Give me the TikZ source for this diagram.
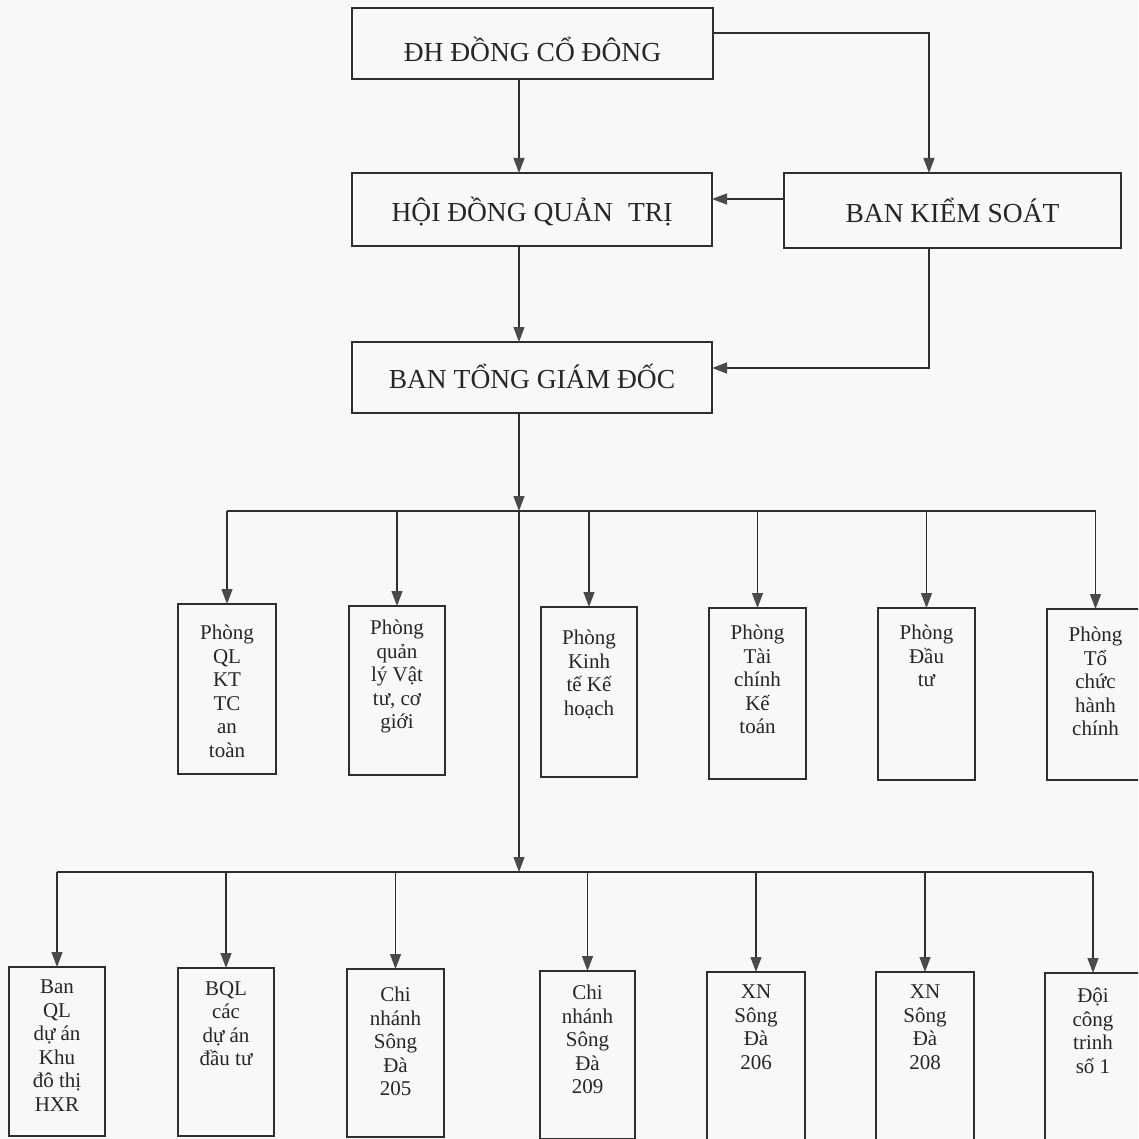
\documentclass[tikz,border=0pt]{standalone}
\usepackage{fontspec}
\setmainfont{Liberation Serif}
\usetikzlibrary{arrows.meta,calc}
\definecolor{paper}{HTML}{F8F8F8}
\definecolor{linec}{HTML}{2E2E2E}
\definecolor{arrc}{HTML}{4A4A4A}
\definecolor{textc}{HTML}{262626}
\tikzset{
  bigbox/.style={draw=linec, line width=1.4pt, inner sep=0pt, outer sep=0pt,
    text=textc, font=\fontsize{27.5}{30}\selectfont, text height=24pt, text depth=0pt},
  ubox/.style={draw=linec, line width=1.3pt, inner sep=0pt, outer sep=0pt},
  ltext/.style={anchor=north, align=center, inner sep=0pt, text=textc,
    font=\fontsize{21}{23.5}\selectfont},
  conn/.style={draw=linec, line width=1.25pt},
  arr/.style={conn, -{Triangle[length=15pt, width=11pt, color=arrc]}}
}
\begin{document}
\begin{tikzpicture}[x=1pt, y=-1pt]
\useasboundingbox (0,0) rectangle (1138,1139);
\fill[paper] (0,0) rectangle (1138,1139);
\clip (0,0) rectangle (1138,1139);

% top management boxes
\node[bigbox, minimum width=361pt, minimum height=71pt, text height=36pt] (dh) at (532.5,43.5) {ĐH ĐỒNG CỔ ĐÔNG};
\node[bigbox, minimum width=360pt, minimum height=73pt] (hdqt) at (532,209.5) {HỘI ĐỒNG QUẢN\hspace{0.3em} TRỊ};
\node[bigbox, minimum width=337pt, minimum height=75pt, text height=25pt] (bks) at (952.5,210.5) {BAN KIỂM SOÁT};
\node[bigbox, minimum width=360pt, minimum height=71pt, text height=21pt] (btgd) at (532,377.5) {BAN TỔNG GIÁM ĐỐC};

% departments (top row)
\node[ubox, minimum width=98pt, minimum height=170pt,
  label={[ltext, label distance=-21pt]north:{Phòng\\QL\\KT\\TC\\an\\toàn}}] (p1) at (227,689) {};
\node[ubox, minimum width=96pt, minimum height=169pt,
  label={[ltext, label distance=-14pt]north:{Phòng\\quản\\lý Vật\\tư, cơ\\giới}}] (p2) at (397,690.5) {};
\node[ubox, minimum width=96pt, minimum height=170pt,
  label={[ltext, label distance=-23pt]north:{Phòng\\Kinh\\tế Kế\\hoạch}}] (p3) at (589,692) {};
\node[ubox, minimum width=97pt, minimum height=171pt,
  label={[ltext, label distance=-17pt]north:{Phòng\\Tài\\chính\\Kế\\toán}}] (p4) at (757.5,693.5) {};
\node[ubox, minimum width=97pt, minimum height=172pt,
  label={[ltext, label distance=-17pt]north:{Phòng\\Đầu\\tư}}] (p5) at (926.5,694) {};
\node[ubox, minimum width=97pt, minimum height=171pt,
  label={[ltext, label distance=-18pt]north:{Phòng\\Tổ\\chức\\hành\\chính}}] (p6) at (1095.5,694.5) {};

% units (bottom row)
\node[ubox, minimum width=96pt, minimum height=169pt,
  label={[ltext, label distance=-13pt]north:{Ban\\QL\\dự án\\Khu\\đô thị\\HXR}}] (b1) at (57,1051.5) {};
\node[ubox, minimum width=96pt, minimum height=168pt,
  label={[ltext, label distance=-13pt]north:{BQL\\các\\dự án\\đầu tư}}] (b2) at (226,1052) {};
\node[ubox, minimum width=97pt, minimum height=168pt,
  label={[ltext, label distance=-18pt]north:{Chi\\nhánh\\Sông\\Đà\\205}}] (b3) at (395.5,1053) {};
\node[ubox, minimum width=95pt, minimum height=168pt,
  label={[ltext, label distance=-14pt]north:{Chi\\nhánh\\Sông\\Đà\\209}}] (b4) at (587.5,1055) {};
\node[ubox, minimum width=98pt, minimum height=170pt,
  label={[ltext, label distance=-13pt]north:{XN\\Sông\\Đà\\206}}] (b5) at (756,1057) {};
\node[ubox, minimum width=98pt, minimum height=170pt,
  label={[ltext, label distance=-13pt]north:{XN\\Sông\\Đà\\208}}] (b6) at (925,1057) {};
\node[ubox, minimum width=96pt, minimum height=170pt,
  label={[ltext, label distance=-15pt]north:{Đội\\công\\trinh\\số 1}}] (b7) at (1093,1058) {};

% helper coordinates
\coordinate (cx) at (519,0);
\coordinate (bus1) at (519,511);
\coordinate (bus2) at (519,872);

% upper connectors
\draw[arr] (dh.south -| cx) -- (hdqt.north -| cx);
\draw[arr] (hdqt.south -| cx) -- (btgd.north -| cx);
\draw[arr] ([yshift=10.5pt]dh.east) -| ([xshift=-23.5pt]bks.north);
\draw[arr] ([yshift=11.5pt]bks.west) -- ([yshift=11.5pt]bks.west -| hdqt.east);
\draw[arr] ([xshift=-23.5pt]bks.south) |- ([yshift=9.5pt]btgd.east);

% trunk
\draw[arr] (btgd.south -| cx) -- (bus1);
\draw[arr] (bus1) -- (bus2);

% first bus
\draw[conn] (p1.north |- bus1) -- (p6.north |- bus1);
\foreach \n in {p1,p2,p3,p4,p5,p6}
  \draw[arr] (\n.north |- bus1) -- (\n.north);

% second bus
\draw[conn] (b1.north |- bus2) -- (b7.north |- bus2);
\foreach \n in {b1,b2,b3,b4,b5,b6,b7}
  \draw[arr] (\n.north |- bus2) -- (\n.north);
\end{tikzpicture}
\end{document}
